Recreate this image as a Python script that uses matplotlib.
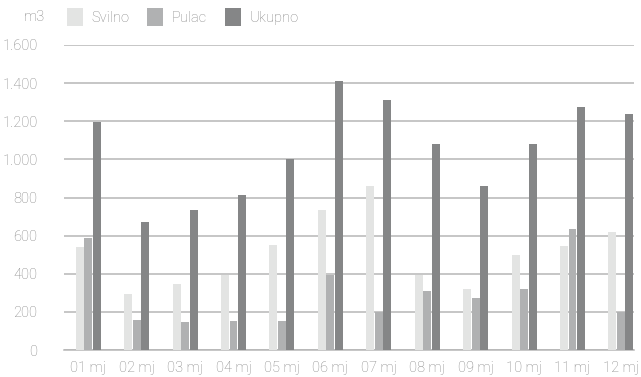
import matplotlib
matplotlib.use("Agg")
import matplotlib.pyplot as plt
from matplotlib.patches import Patch
import numpy as np

months = ["01 mj", "02 mj", "03 mj", "04 mj", "05 mj", "06 mj",
          "07 mj", "08 mj", "09 mj", "10 mj", "11 mj", "12 mj"]
svilno = [540, 295, 345, 395, 552, 735, 860, 393, 318, 498, 546, 618]
pulac = [590, 158, 146, 150, 150, 392, 201, 308, 274, 318, 637, 201]
ukupno = [1195, 673, 735, 812, 1000, 1412, 1312, 1080, 858, 1080, 1277, 1240]
series_names = ["Svilno", "Pulac", "Ukupno"]
yticks = [0, 200, 400, 600, 800, 1000, 1200, 1400, 1600]
ytick_labels = ["0", "200", "400", "600", "800", "1.000", "1.200", "1.400", "1.600"]

colors = ["#e3e4e3", "#b0b1b2", "#858687"]
text_color = "#858585"
grid_color = "#b6b6b6"

plt.rcParams["font.family"] = ["Roboto", "DejaVu Sans"]
plt.rcParams["font.weight"] = "light"
fs = 10.5

W, H = 641, 377
fig = plt.figure(figsize=(W / 100, H / 100), dpi=100)
left, right, bottom, top = 64, 634, 350, 45
ax = fig.add_axes([left / W, 1 - bottom / H, (right - left) / W, (bottom - top) / H])

x = np.arange(len(months))
width = 0.165
offsets = [-0.175, 0.0, 0.175]
for vals, off, col, name in zip([svilno, pulac, ukupno], offsets, colors, series_names):
    ax.bar(x + off, vals, width=width, color=col, label=name, zorder=3)

ax.set_xlim(-0.5, 11.27)
ax.set_ylim(0, 1600)
ax.set_yticks(yticks)
ax.set_yticklabels(ytick_labels)
ax.set_xticks(x)
ax.set_xticklabels(months)
ax.yaxis.grid(True, color=grid_color, linewidth=1.1, zorder=0)
ax.set_axisbelow(True)
for s in ["top", "right", "left"]:
    ax.spines[s].set_visible(False)
ax.spines["bottom"].set_color(grid_color)
ax.spines["bottom"].set_linewidth(1.1)
ax.tick_params(axis="both", length=0, colors=text_color, labelsize=fs)
ax.tick_params(axis="y", pad=19)
ax.tick_params(axis="x", pad=8)

fig.text(45 / W, 1 - 17 / H, "m3", ha="right", va="center",
         color=text_color, fontsize=fs)

handles = [Patch(facecolor=c, edgecolor="none") for c in colors]
leg = fig.legend(handles, series_names, loc="center left",
                 bbox_to_anchor=(67 / W, 1 - 17 / H), ncol=3, frameon=False,
                 fontsize=fs, handlelength=1.1, handleheight=1.55,
                 handletextpad=0.6, columnspacing=1.2, borderpad=0,
                 borderaxespad=0)
for t in leg.get_texts():
    t.set_color(text_color)

fig.savefig("out.png", dpi=100)
